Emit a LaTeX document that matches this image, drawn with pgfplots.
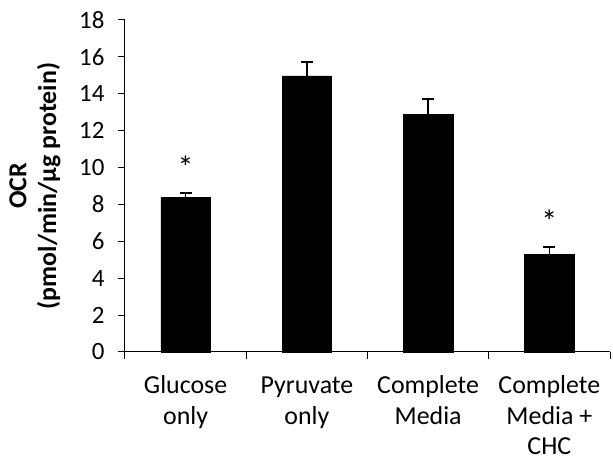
\documentclass[border=0pt]{standalone}
\usepackage{fontspec}
\setmainfont{Carlito}
\usepackage{pgfplots}
\pgfplotsset{compat=1.18}
\begin{document}
\begin{tikzpicture}
\begin{axis}[
  scale only axis,
  width=485bp, height=332bp,
  xmin=-0.5, xmax=3.5,
  ymin=0, ymax=18,
  ytick={0,2,...,18},
  xtick={0,1,2,3},
  xticklabels={\strut Glucose\\only, \strut Pyruvate\\only, \strut Complete\\Media, \strut Complete\\Media +\\CHC},
  xticklabel style={align=center, font=\fontsize{26}{31}\selectfont, anchor=north, yshift=-9bp},
  yticklabel style={font=\fontsize{25}{28}\selectfont, anchor=east, xshift=-10bp},
  /pgf/number format/assume math mode=true,
  major x tick style={draw=none},
  minor xtick={-0.5,0.5,1.5,2.5,3.5},
  tick align=outside,
  tick style={black, line width=1pt},
  major tick length=7bp, minor tick length=7bp,
  axis x line*=bottom, axis y line*=left,
  axis line style={black, line width=1pt},
  ylabel={\textbf{OCR}\\\textbf{(pmol/min/µg protein)}},
  ylabel style={align=center, font=\fontsize{26}{30}\selectfont, at={(axis description cs:-0.1856,0.5)}, anchor=center},
  clip=false,
]
\addplot[ybar, bar width=49.5bp, fill=black, draw=black,
  error bars/.cd, y dir=plus, y explicit,
  error bar style={line width=1.5pt, black},
  error mark options={rotate=90, mark size=6bp, line width=1.5pt}]
  coordinates {(0,8.37) +- (0,0.24) (1,14.97) +- (0,0.76) (2,12.9) +- (0,0.81) (3,5.30) +- (0,0.38)};
\addplot[only marks, mark=none, nodes near coords={*}, nodes near coords align={center},
  every node near coord/.append style={font=\fontsize{32}{32}\selectfont, anchor=center}]
  coordinates {(0,10.0) (3,7.1)};
\path (rel axis cs:-0.2577,1.0602) rectangle (rel axis cs:1.00619,-0.3313);
\end{axis}
\end{tikzpicture}
\end{document}
